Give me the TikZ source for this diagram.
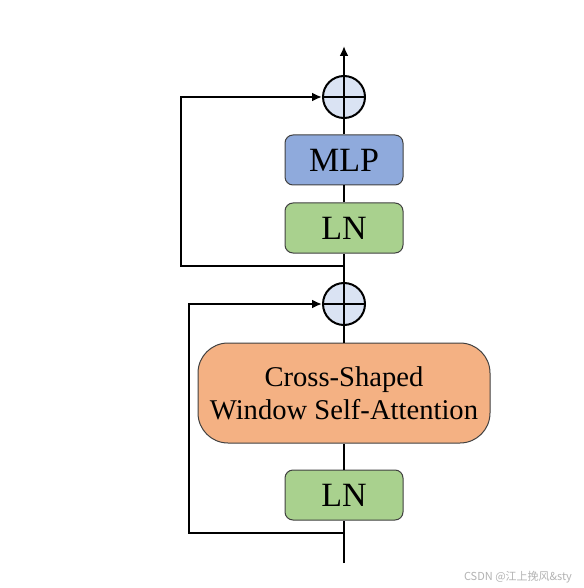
\documentclass[tikz,border=0pt]{standalone}
\usepackage{fontspec}
\setmainfont{Liberation Serif}
\newfontfamily\cjkfont{Noto Sans CJK SC}
\usetikzlibrary{arrows.meta}
\definecolor{mlpblue}{RGB}{143,170,220}
\definecolor{lngreen}{RGB}{169,209,142}
\definecolor{attnorange}{RGB}{244,177,131}
\definecolor{addblue}{RGB}{218,227,243}

\begin{document}
\begin{tikzpicture}[x=0.5pt, y=-0.5pt,
    flow/.style={line width=1pt},
    flowarrow/.style={line width=1pt, -{Latex[length=5pt, width=4.5pt]}},
    block/.style={draw=black!75, line width=0.5pt, rounded corners=4pt,
        minimum width=59pt, minimum height=25pt, inner sep=0pt,
        font=\fontsize{17}{20}\selectfont},
    plus/.style={circle, draw, fill=addblue, line width=1pt, minimum size=21pt, inner sep=0pt,
        path picture={\draw[line width=0.8pt]
            (path picture bounding box.north) -- (path picture bounding box.south)
            (path picture bounding box.west) -- (path picture bounding box.east);}}]
    \useasboundingbox (0,0) rectangle (583,588);

    % Blocks
    \node[block, fill=lngreen] (ln2) at (344,495) {LN};
    \node[block, fill=attnorange, minimum width=146pt, minimum height=50pt, rounded corners=15pt,
        align=center, font=\fontsize{14.3}{16.5}\selectfont] (attn) at (344,393)
        {Cross-Shaped\\Window Self-Attention};
    \node[plus] (add2) at (344,304) {};
    \node[block, fill=lngreen] (ln1) at (344,228) {LN};
    \node[block, fill=mlpblue] (mlp) at (344,160) {MLP};
    \node[plus] (add1) at (344,97) {};

    % Ends and branch points
    \coordinate (in) at (344,563);
    \coordinate (out) at (344,46);
    \coordinate (split2) at (344,533);
    \coordinate (split1) at (344,266);
    \coordinate (skip2) at (189,533);
    \coordinate (skip1) at (181,266);

    % Main path
    \draw[flow] (in) -- (ln2);
    \draw[flow] (ln2) -- (attn);
    \draw[flow] (attn) -- (add2);
    \draw[flow] (add2) -- (ln1);
    \draw[flow] (ln1) -- (mlp);
    \draw[flow] (mlp) -- (add1);
    \draw[flowarrow] (add1) -- (out);

    % Residual connections
    \draw[flowarrow] (split2) -- (skip2) |- (add2.west);
    \draw[flowarrow] (split1) -- (skip1) |- (add1.west);

    % Watermark
    \node[anchor=east, text=black!30, font=\cjkfont\fontsize{5.5}{6}\selectfont] (mark) at (579,577)
        {CSDN @江上挽风\&sty};
\end{tikzpicture}
\end{document}
